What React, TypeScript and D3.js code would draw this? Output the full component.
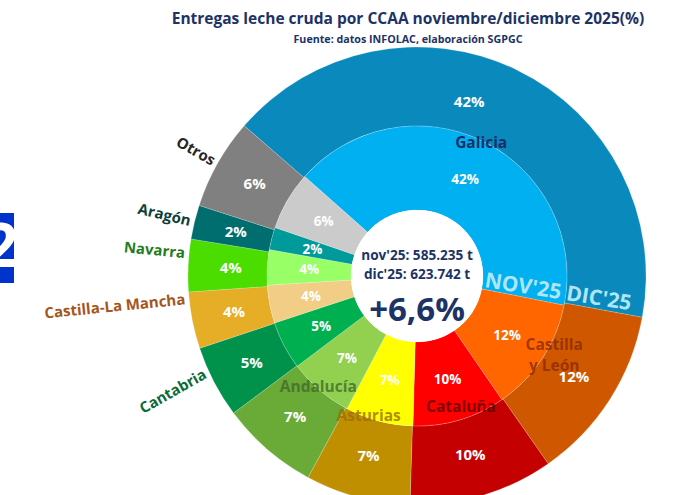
import React from "react";
import * as d3 from "d3";

const regions = ["Galicia", "Castilla y León", "Cataluña", "Asturias", "Andalucía", "Cantabria", "Castilla-La Mancha", "Navarra", "Aragón", "Otros"];
const nov25 = [41.6, 12.3, 10.0, 7.3, 7.0, 5.2, 4.1, 3.8, 2.4, 6.3];
const dic25 = [41.5, 12.4, 10.2, 7.4, 6.9, 5.1, 4.0, 3.7, 2.4, 6.4];
const novColors = ["#00b0f0", "#ff6600", "#ff0000", "#ffff00", "#92d050", "#00b050", "#f1cd86", "#99ff66", "#009a9a", "#cbcbcb"];
const dicColors = ["#0a89bc", "#cf5700", "#c50000", "#bf8f00", "#6aaa36", "#00924a", "#e6ad26", "#4bdc00", "#006e6e", "#808080"];
// where the region name goes: inside the ring or outside on the left
const nameInside = [true, true, true, true, true, false, false, false, false, false];
const nameColors = ["#13306a", "#8a2a00", "#5c0000", "#9a6f00", "#42692a", "#0b6b37", "#a4561c", "#1f7d1f", "#0e3f3a", "#262626"];
const totals = ["nov'25: 585.235 t", "dic'25: 623.742 t"];
const change = "+6,6%";

const W = 683;
const H = 495;
const cx = 417;
const cy = 276;
const rHole = 66;
const rMid = 150;
const rOut = 229;
const deg = Math.PI / 180;
const font = "'Open Sans', 'Noto Sans', sans-serif";
const navy = "#1c3366";

// hand-placed labels in the original: small angle tweaks (degrees, clockwise)
const nameShift: Record<string, number> = {
  "Castilla y León": -3, "Cataluña": -2, "Asturias": 4, "Andalucía": 1,
  "Navarra": 3, "Castilla-La Mancha": 5.5, "Cantabria": 3,
};
const nameTilt: Record<string, number> = { "Cantabria": -5 };
const nameRadius: Record<string, number> = { "Castilla y León": 158, "Cataluña": 138 };
const outerPctShift: Record<string, number> = { Galicia: -9 };

export default function App() {
  const pieOut = d3.pie<number>().sort(null).startAngle(-49 * deg).endAngle(311 * deg);
  const pieIn = d3.pie<number>().sort(null).startAngle(-48.5 * deg).endAngle(311.5 * deg);
  const arcOut = d3.arc<d3.PieArcDatum<number>>().innerRadius(rMid).outerRadius(rOut);
  const arcIn = d3.arc<d3.PieArcDatum<number>>().innerRadius(rHole).outerRadius(rMid);
  const outer = pieOut(dic25);
  const inner = pieIn(nov25);

  const polar = (a: number, r: number) => [Math.sin(a) * r, -Math.cos(a) * r];
  const mid = (d: d3.PieArcDatum<number>) => (d.startAngle + d.endAngle) / 2;

  return (
    <svg width={W} height={H} style={{ position: "absolute", left: 0, top: 0, background: "#fff" }} fontFamily={font}>
      <defs>
        <clipPath id="edge"><rect x={0} y={213} width={14} height={70} /></clipPath>
      </defs>
      {/* cut-off badge on the left edge */}
      <g clipPath="url(#edge)">
        <rect x={0} y={213} width={14} height={70} fill="#0033cc" />
        <text x={1} y={267} fontSize={60} fontWeight={700} fill="#fff" textAnchor="middle">2</text>
      </g>

      <text x={408} y={24} textAnchor="middle" fontSize={15.5} fontWeight={700} fill={navy}>
        Entregas leche cruda por CCAA noviembre/diciembre 2025(%)
      </text>
      <text x={408} y={43} textAnchor="middle" fontSize={10.7} fontWeight={700} fill={navy}>
        Fuente: datos INFOLAC, elaboración SGPGC
      </text>

      <g transform={`translate(${cx},${cy})`}>
        {outer.map((d, i) => (
          <path key={"o" + i} d={arcOut(d) || ""} fill={dicColors[i]} stroke="#fff" strokeOpacity={0.25} strokeWidth={0.75} />
        ))}
        {inner.map((d, i) => (
          <path key={"i" + i} d={arcIn(d) || ""} fill={novColors[i]} stroke="#fff" strokeOpacity={0.25} strokeWidth={0.75} />
        ))}
        <circle r={rHole} fill="#fff" />

        {outer.map((d, i) => {
          const shift = outerPctShift[regions[i]] || 0;
          const a = mid(d) + shift * deg;
          const [x, y] = polar(a, (rMid + rOut) / 2 - (shift ? 8 : 3));
          return (
            <text key={"po" + i} x={x} y={y} dy="0.35em" textAnchor="middle" fontSize={15} fontWeight={700} fill="#fff">
              {Math.round(d.data)}%
            </text>
          );
        })}
        {inner.map((d, i) => {
          const [x, y] = arcIn.centroid(d);
          return (
            <text key={"pi" + i} x={x} y={y} dy="0.35em" textAnchor="middle" fontSize={13.5} fontWeight={700} fill="#fff">
              {Math.round(d.data)}%
            </text>
          );
        })}

        {outer.map((d, i) => {
          const name = regions[i];
          const a = mid(d) + (nameShift[name] || 0) * deg;
          if (nameInside[i]) {
            const r = nameRadius[name] || 148;
            const [x, y] = polar(a, r);
            const lines = i === 1 ? ["Castilla", "y León"] : [name];
            return (
              <text key={"n" + i} x={x} y={y} textAnchor="middle" fontSize={15.5} fontWeight={700} fill={nameColors[i]}
                fillOpacity={i === 0 ? 1 : 0.8}>
                {lines.map((t, k) => (
                  <tspan key={k} x={x} dy={k === 0 ? (lines.length > 1 ? "-0.3em" : "0.35em") : "1.35em"}>{t}</tspan>
                ))}
              </text>
            );
          }
          const [x, y] = polar(a, rOut + 4);
          const rot = a / deg - 270 + (nameTilt[name] || 0);
          return (
            <text key={"n" + i} transform={`translate(${x},${y}) rotate(${rot})`} dy="0.35em" textAnchor="end"
              fontSize={15} fontWeight={700} fill={nameColors[i]}>
              {name}
            </text>
          );
        })}

        <text y={-16} textAnchor="middle" fontSize={13.6} fontWeight={700} fill={navy}>{totals[0]}</text>
        <text y={3} textAnchor="middle" fontSize={13.6} fontWeight={700} fill={navy}>{totals[1]}</text>
        <text y={45} textAnchor="middle" fontSize={33} fontWeight={700} fill={navy}>{change}</text>

        <text transform={`translate(${rHole + 1},${11}) rotate(9)`} fontSize={21} fontWeight={700} fill="#aee6f8">
          NOV'25 DIC'25
        </text>
      </g>
    </svg>
  );
}
